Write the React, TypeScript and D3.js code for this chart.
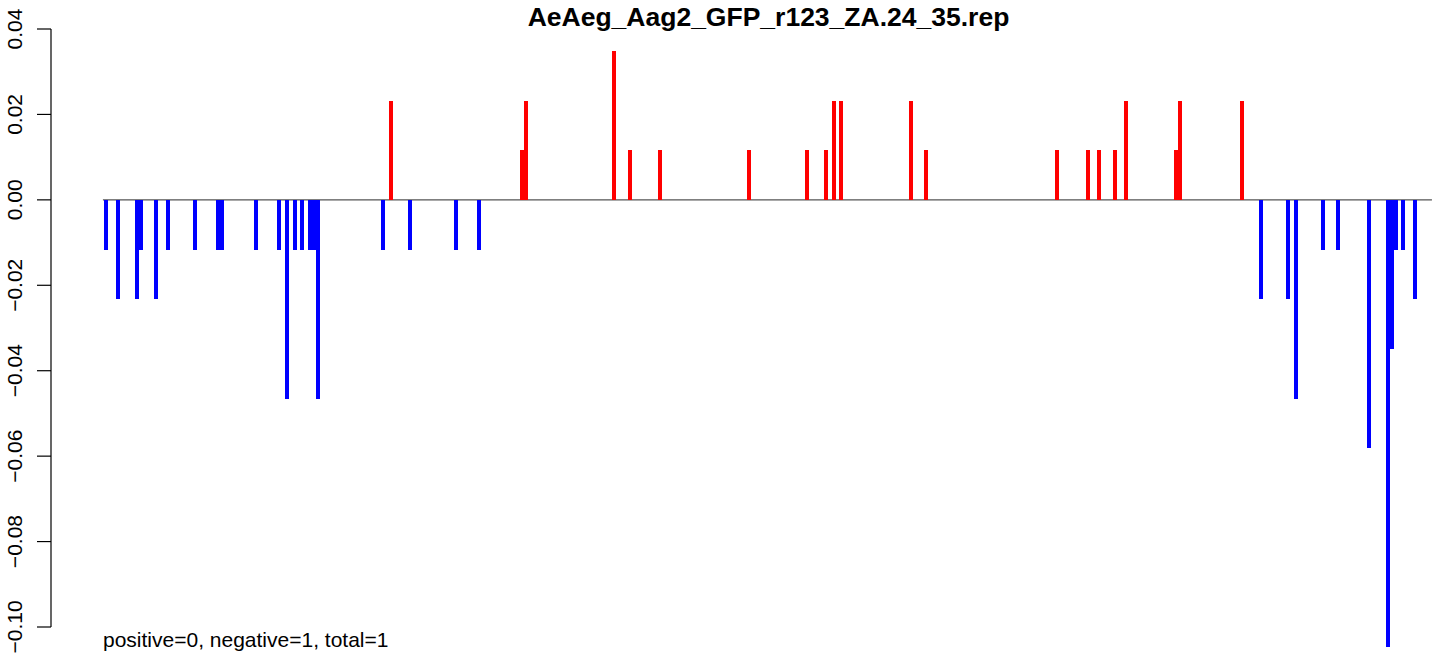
import React from "react";
import * as d3 from "d3";

const TITLE = "AeAeg_Aag2_GFP_r123_ZA.24_35.rep";
const FOOTER = "positive=0, negative=1, total=1";

// positions (relative index along the sequence) and read counts
const negPositions = [0, 3, 8, 9, 13, 16, 23, 29, 30, 39, 45, 47, 49, 51, 53, 54, 55, 72, 79, 91, 97, 300, 307, 309, 316, 320, 328, 333, 334, 335, 337, 340];
const negCounts = [1, 2, 2, 1, 2, 1, 1, 1, 1, 1, 1, 4, 1, 1, 1, 1, 4, 1, 1, 1, 1, 2, 2, 4, 1, 1, 5, 9, 3, 1, 1, 2];
const posPositions = [74, 108, 109, 132, 136, 144, 167, 182, 187, 189, 191, 209, 213, 247, 255, 258, 262, 265, 278, 279, 295];
const posCounts = [2, 1, 2, 3, 1, 1, 1, 1, 1, 2, 2, 2, 1, 1, 1, 1, 1, 2, 1, 2, 2];
const TOTAL_READS = 86;
const yTicks = [0.04, 0.02, 0.0, -0.02, -0.04, -0.06, -0.08, -0.1];
const baselineExtent = [-0.8, 344.4];

export default function App() {
  const W = 1444, H = 657;
  const x = d3.scaleLinear().domain([0, 340]).range([106, 1415]);
  const y = d3.scaleLinear().domain([-0.1, 0.04]).range([627, 29]);
  const bars = [
    ...negPositions.map((p, i) => ({ p, v: -negCounts[i] / TOTAL_READS })),
    ...posPositions.map((p, i) => ({ p, v: posCounts[i] / TOTAL_READS })),
  ].sort((a, b) => a.p - b.p);
  const bw = 4;
  const fmt = (t: number) => (t < 0 ? "\u2212" : "") + Math.abs(t).toFixed(2);
  return (
    <svg width={W} height={H} style={{ position: "absolute", left: 0, top: 0, background: "#fff" }}
      fontFamily="'Liberation Sans', Arial, Helvetica, sans-serif">
      <rect width={W} height={H} fill="#fff" />
      <text x={768.5} y={26} textAnchor="middle" fontWeight="bold" fontSize={26.5}>{TITLE}</text>
      <line x1={x(baselineExtent[0])} x2={x(baselineExtent[1])} y1={y(0)} y2={y(0)} stroke="#555" strokeWidth={1.2} />
      <g shapeRendering="crispEdges">
        {bars.map((b, i) => (
          <rect key={i} x={x(b.p) - bw / 2} width={bw}
            y={Math.min(y(b.v), y(0))} height={Math.abs(y(b.v) - y(0))}
            fill={b.v > 0 ? "#ff0000" : "#0000ff"} />
        ))}
      </g>
      <g>
        <line x1={51} x2={51} y1={y(0.04)} y2={y(-0.1)} stroke="#000" strokeWidth={1.2} />
        {yTicks.map((t) => (
          <g key={t}>
            <line x1={37} x2={51} y1={y(t)} y2={y(t)} stroke="#000" strokeWidth={1.2} />
            <text transform={`translate(22,${y(t)}) rotate(-90)`} textAnchor="middle" fontSize={21}>{fmt(t)}</text>
          </g>
        ))}
      </g>
      <text x={103} y={647} fontSize={21}>{FOOTER}</text>
    </svg>
  );
}
